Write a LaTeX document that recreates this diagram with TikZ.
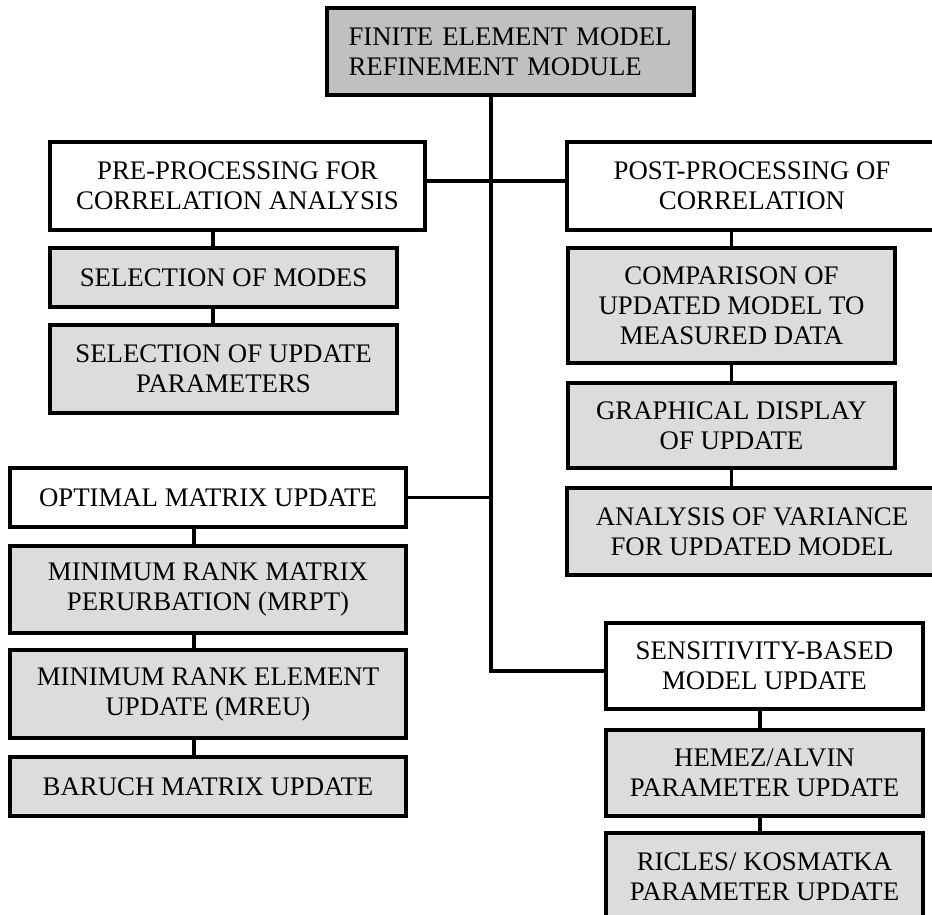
\documentclass[tikz,border=0pt]{standalone}
\usepackage{fontspec}
\setmainfont{Liberation Serif}
\definecolor{hdrgray}{RGB}{192,192,192}
\definecolor{subgray}{RGB}{220,220,220}
\tikzset{
  block/.style={draw, rectangle, line width=2pt, align=center, inner sep=2pt,
    font=\fontsize{13.4}{15}\selectfont},
  topblock/.style={block, fill=hdrgray, align=left, text width=162pt},
  groupblock/.style={block, fill=white},
  itemblock/.style={block, fill=subgray},
  link/.style={line width=1.8pt},
}

\begin{document}
\begin{tikzpicture}[x=50pt,y=50pt]
  \useasboundingbox (0,0) rectangle (9.32,-9.15);

  % column lines
  \coordinate (trunk) at (4.91,0);
  \coordinate (lcol) at (2.13,0);
  \coordinate (ocol) at (1.94,0);
  \coordinate (scol) at (7.60,0);

  \node[topblock, minimum width=183.5pt, minimum height=43.5pt] (fem) at (5.105,-0.515)
    {FINITE ELEMENT MODEL\\REFINEMENT MODULE};

  % pre-processing
  \node[groupblock, minimum width=187.5pt, minimum height=44pt] (pre) at (2.375,-1.86)
    {PRE-PROCESSING FOR\\CORRELATION ANALYSIS};
  \node[itemblock, minimum width=173.5pt, minimum height=29.5pt] (modes) at (2.235,-2.775)
    {SELECTION OF MODES};
  \node[itemblock, minimum width=173.5pt, minimum height=44pt] (params) at (2.235,-3.69)
    {SELECTION OF UPDATE\\PARAMETERS};

  % matrix update
  \node[groupblock, minimum width=198pt, minimum height=29.5pt] (optimal) at (2.08,-4.975)
    {OPTIMAL MATRIX UPDATE};
  \node[itemblock, minimum width=198pt, minimum height=43.5pt] (mrpt) at (2.08,-5.895)
    {MINIMUM RANK MATRIX\\PERURBATION (MRPT)};
  \node[itemblock, minimum width=198pt, minimum height=44pt] (mreu) at (2.08,-6.94)
    {MINIMUM RANK ELEMENT\\UPDATE (MREU)};
  \node[itemblock, minimum width=198pt, minimum height=29.5pt] (baruch) at (2.08,-7.865)
    {BARUCH MATRIX UPDATE};

  % post-processing
  \node[groupblock, minimum width=185pt, minimum height=44pt] (post) at (7.52,-1.86)
    {POST-PROCESSING OF\\CORRELATION};
  \node[itemblock, minimum width=163.5pt, minimum height=57.5pt] (compare) at (7.315,-3.055)
    {COMPARISON OF\\UPDATED MODEL TO\\MEASURED DATA};
  \node[itemblock, minimum width=163.5pt, minimum height=42.5pt] (graphic) at (7.315,-4.255)
    {GRAPHICAL DISPLAY\\OF UPDATE};
  \node[itemblock, minimum width=185pt, minimum height=43.5pt] (anova) at (7.52,-5.315)
    {ANALYSIS OF VARIANCE\\FOR UPDATED MODEL};

  % sensitivity
  \node[groupblock, minimum width=158.5pt, minimum height=43pt] (sens) at (7.645,-6.66)
    {SENSITIVITY-BASED\\MODEL UPDATE};
  \node[itemblock, minimum width=158.5pt, minimum height=43pt] (hemez) at (7.645,-7.73)
    {HEMEZ/ALVIN\\PARAMETER UPDATE};
  \node[itemblock, minimum width=158.5pt, minimum height=43.5pt] (ricles) at (7.645,-8.765)
    {RICLES/ KOSMATKA\\PARAMETER UPDATE};

  % main tree
  \draw[link] (fem.south -| trunk) |- ([yshift=-2.5pt]sens.west);
  \draw[link] ([yshift=2.5pt]pre.east) -- ([yshift=2.5pt]post.west);
  \draw[link] (optimal.east) -- (optimal.east -| trunk);

  % sub-items
  \foreach \a/\b in {pre/modes, modes/params}
    \draw[link] (\a.south -| lcol) -- (\b.north -| lcol);
  \foreach \a/\b in {optimal/mrpt, mrpt/mreu, mreu/baruch}
    \draw[link] (\a.south -| ocol) -- (\b.north -| ocol);
  \foreach \a/\b in {post/compare, compare/graphic, graphic/anova}
    \draw[link] (\a.south -| compare.north) -- (\b.north -| compare.north);
  \foreach \a/\b in {sens/hemez, hemez/ricles}
    \draw[link] (\a.south -| scol) -- (\b.north -| scol);

\end{tikzpicture}
\end{document}
